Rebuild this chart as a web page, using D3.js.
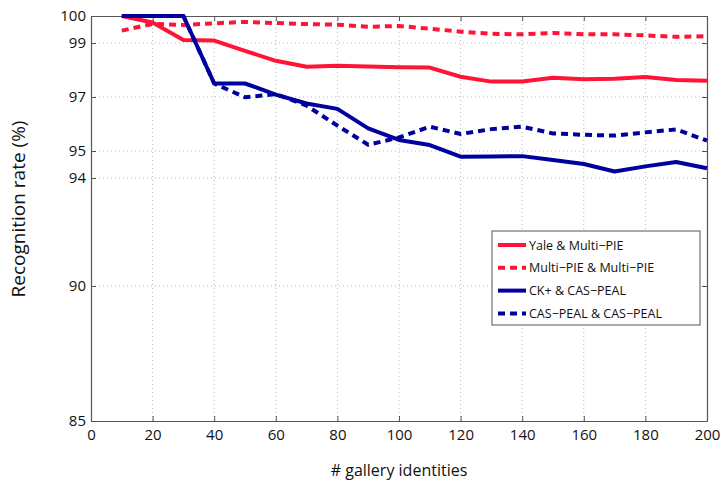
<!DOCTYPE html>
<html>
<head>
<meta charset="utf-8">
<script src="https://cdn.jsdelivr.net/npm/d3@7"></script>
<style>
  body { margin: 0; background: #fff; }
  svg text { font-family: "Open Sans", sans-serif; fill: #111; }
</style>
</head>
<body>
<svg id="chart" width="721" height="485"></svg>
<script>
// gallery sizes
const galleryIds = [10, 20, 30, 40, 50, 60, 70, 80, 90, 100, 110, 120, 130, 140, 150, 160, 170, 180, 190, 200];

const yaleMultiPie = [100, 99.76, 99.11, 99.09, 98.71, 98.34, 98.12, 98.16, 98.13, 98.10,
  98.09, 97.75, 97.57, 97.57, 97.71, 97.66, 97.68, 97.74, 97.63, 97.60];
const multiPieMultiPie = [99.46, 99.71, 99.67, 99.73, 99.78, 99.74, 99.70, 99.68, 99.60, 99.63,
  99.53, 99.42, 99.34, 99.32, 99.37, 99.32, 99.32, 99.28, 99.23, 99.25];
const ckCasPeal = [100, 100, 100, 97.50, 97.50, 97.09, 96.76, 96.56, 95.84, 95.41,
  95.22, 94.79, 94.80, 94.81, 94.67, 94.52, 94.24, 94.43, 94.59, 94.36];
const casPealCasPeal = [100, 100, 100, 97.50, 96.99, 97.11, 96.68, 95.94, 95.23, 95.50,
  95.90, 95.63, 95.81, 95.90, 95.65, 95.60, 95.57, 95.69, 95.80, 95.38];

const seriesNames = ["Yale & Multi\u2212PIE", "Multi\u2212PIE & Multi\u2212PIE", "CK+ & CAS\u2212PEAL", "CAS\u2212PEAL & CAS\u2212PEAL"];
const xTicks = [0, 20, 40, 60, 80, 100, 120, 140, 160, 180, 200];
const yTicks = [85, 90, 94, 95, 97, 99, 100];

const red = "#ff1438";
const blue = "#00009e";

const series = [
  { name: seriesNames[0], values: yaleMultiPie, color: red, dash: null },
  { name: seriesNames[1], values: multiPieMultiPie, color: red, dash: "7,5" },
  { name: seriesNames[2], values: ckCasPeal, color: blue, dash: null },
  { name: seriesNames[3], values: casPealCasPeal, color: blue, dash: "7,5" }
];

const svg = d3.select("#chart");
const margin = { top: 16, right: 14, bottom: 64, left: 91 };
const width = 721, height = 485;

const x = d3.scaleLinear().domain([0, 200]).range([margin.left, width - margin.right]);
const y = d3.scaleLinear().domain([85, 100]).range([height - margin.bottom, margin.top]);

// dotted grid
const grid = svg.append("g").attr("stroke", "#b8b8b8").attr("stroke-dasharray", "1,3").attr("stroke-width", 1);
grid.selectAll(".gx").data(xTicks.slice(1, -1)).join("line")
  .attr("x1", d => x(d)).attr("x2", d => x(d))
  .attr("y1", y(85)).attr("y2", y(100));
grid.selectAll(".gy").data(yTicks.slice(1, -1)).join("line")
  .attr("x1", x(0)).attr("x2", x(200))
  .attr("y1", d => y(d)).attr("y2", d => y(d));

// axes (ticks pointing inward)
const axisColor = "#555";
const fontSize = "15px";

const axBottom = svg.append("g")
  .attr("transform", `translate(0,${y(85)})`)
  .call(d3.axisBottom(x).tickValues(xTicks).tickSizeInner(-5).tickSizeOuter(0).tickPadding(8));
const axTop = svg.append("g")
  .attr("transform", `translate(0,${y(100)})`)
  .call(d3.axisTop(x).tickValues(xTicks).tickSizeInner(-5).tickSizeOuter(0).tickFormat(""));
const axLeft = svg.append("g")
  .attr("transform", `translate(${x(0)},0)`)
  .call(d3.axisLeft(y).tickValues(yTicks).tickSizeInner(-5).tickSizeOuter(0).tickPadding(5));
const axRight = svg.append("g")
  .attr("transform", `translate(${x(200)},0)`)
  .call(d3.axisRight(y).tickValues(yTicks).tickSizeInner(-5).tickSizeOuter(0).tickFormat(""));

[axBottom, axTop, axLeft, axRight].forEach(g => {
  g.select(".domain").attr("stroke", axisColor).attr("stroke-width", 1.2);
  g.selectAll(".tick line").attr("stroke", axisColor);
  g.selectAll("text").style("font-size", fontSize).attr("fill", "#111");
});

// lines
const line = d3.line()
  .x((d, i) => x(galleryIds[i]))
  .y(d => y(d));

svg.append("g").selectAll("path").data(series).join("path")
  .attr("d", d => line(d.values))
  .attr("fill", "none")
  .attr("stroke", d => d.color)
  .attr("stroke-width", 4)
  .attr("stroke-dasharray", d => d.dash)
  .attr("stroke-linejoin", "round");

// axis labels
svg.append("text")
  .attr("x", (x(0) + x(200)) / 2)
  .attr("y", 476)
  .attr("text-anchor", "middle")
  .style("font-size", "16px")
  .text("# gallery identities");

svg.append("text")
  .attr("transform", `translate(25,209) rotate(-90)`)
  .attr("text-anchor", "middle")
  .style("font-size", "19px")
  .text("Recognition rate (%)");

// legend
const legend = svg.append("g").attr("transform", "translate(492,231)");
legend.append("rect")
  .attr("width", 208).attr("height", 94)
  .attr("fill", "#fff").attr("stroke", "#555").attr("stroke-width", 1);

const rows = legend.selectAll(".row").data(series).join("g")
  .attr("transform", (d, i) => `translate(0,${14 + i * 22.8})`);
rows.append("line")
  .attr("x1", 6).attr("x2", 34)
  .attr("stroke", d => d.color)
  .attr("stroke-width", 4)
  .attr("stroke-dasharray", d => d.dash);
rows.append("text")
  .attr("x", 37).attr("y", 4.5)
  .style("font-size", "12.5px")
  .text(d => d.name);
</script>
</body>
</html>
